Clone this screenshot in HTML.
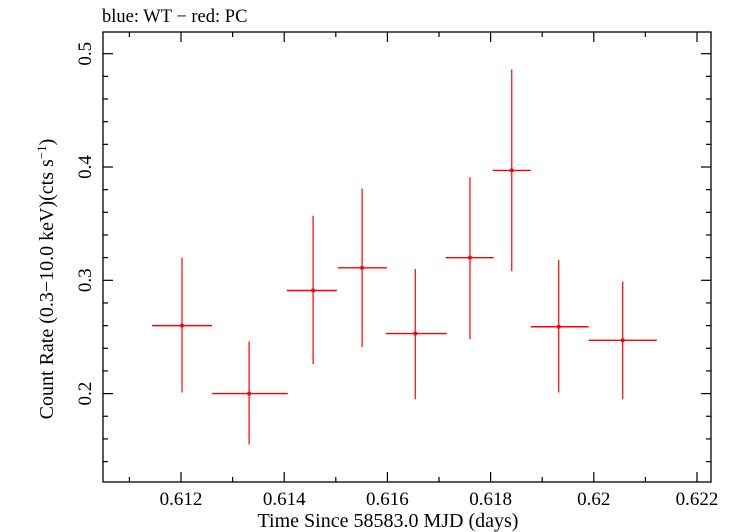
<!DOCTYPE html>
<html><head><meta charset="utf-8"><style>
body{margin:0;background:#fff;}
svg{display:block;font-family:"Liberation Serif",serif;}
</style></head><body>
<svg id="chart" width="731" height="532">
<text x="102" y="22" font-size="18.5">blue: WT − red: PC</text>
<rect x="103" y="32" width="608" height="450" fill="none" stroke="#000" stroke-width="1.3"/>
<g id="ticks"></g>
<g id="marks"></g>
<text x="388" y="527" font-size="20" text-anchor="middle">Time Since 58583.0 MJD (days)</text>
<text transform="translate(53,279) rotate(-90)" font-size="20" text-anchor="middle">Count Rate (0.3−10.0 keV)(cts s<tspan baseline-shift="super" font-size="13">−1</tspan>)</text>
</svg>
<script>
const xCenters=[0.61202,0.61332,0.61456,0.61551,0.61654,0.61760,0.61841,0.61932,0.62056];
const xLow=[0.61144,0.61260,0.61405,0.61504,0.61597,0.61713,0.61804,0.61878,0.61990];
const xHigh=[0.61260,0.61407,0.61502,0.61599,0.61715,0.61806,0.61878,0.61990,0.62122];
const rates=[0.260,0.200,0.291,0.311,0.253,0.320,0.397,0.259,0.247];
const rateLow=[0.201,0.155,0.226,0.241,0.195,0.248,0.308,0.201,0.195];
const rateHigh=[0.320,0.246,0.357,0.381,0.310,0.391,0.486,0.318,0.299];
const xTickLabels=["0.612","0.614","0.616","0.618","0.62","0.622"];
const yTickLabels=["0.2","0.3","0.4","0.5"];
const L=103,R=711,T=32,B=482;
const X0=0.612,XPX=181,XS=103.2/0.002;
const x=v=>XPX+(v-X0)*XS;
const Y0=0.2,YPX=393.6,YS=113.3/0.1;
const y=v=>YPX-(v-Y0)*YS;
const NS="http://www.w3.org/2000/svg";
function mk(tag,attrs,parent){const e=document.createElementNS(NS,tag);for(const k in attrs)e.setAttribute(k,attrs[k]);parent.appendChild(e);return e;}
const tg=document.getElementById('ticks');
for(let i=0;i<=12;i++){const v=0.611+i*0.001;const px=x(v);if(px<L||px>R)continue;const major=(i%2===1);const len=major?10:5;
 let l=mk('line',{x1:px,x2:px,y1:B,y2:B-len,stroke:'#000','stroke-width':1.2},tg);
 
 
 l=mk('line',{x1:px,x2:px,y1:T,y2:T+len,stroke:'#000','stroke-width':1.2},tg);
 
 
}
xTickLabels.forEach(s=>{const t=mk('text',{x:x(parseFloat(s)),y:505,'font-size':19,'text-anchor':'middle'},tg);t.textContent=s;
 
 });
for(let i=0;i<=20;i++){const v=0.12+i*0.02;const py=y(v);if(py<T||py>B)continue;const major=(Math.round(v*100)%10===0);const len=major?10:5;
 let l=mk('line',{x1:L,x2:L+len,y1:py,y2:py,stroke:'#000','stroke-width':1.2},tg);
 
 
 l=mk('line',{x1:R,x2:R-len,y1:py,y2:py,stroke:'#000','stroke-width':1.2},tg);
 
 
}
yTickLabels.forEach(s=>{const py=y(parseFloat(s));const t=mk('text',{transform:`translate(91,${py}) rotate(-90)`,'font-size':19,'text-anchor':'middle'},tg);t.textContent=s;
 
 });
const mg=document.getElementById('marks');
rates.forEach((r,i)=>{const g=mk('g',{},mg);
 
 
 mk('line',{x1:x(xLow[i]),x2:x(xHigh[i]),y1:y(r),y2:y(r),stroke:'#f00','stroke-width':1.4},g);
 mk('line',{x1:x(xCenters[i]),x2:x(xCenters[i]),y1:y(rateLow[i]),y2:y(rateHigh[i]),stroke:'#f00','stroke-width':1.2},g);
 mk('circle',{cx:x(xCenters[i]),cy:y(r),r:2,fill:'#f00'},g);
});
</script>
</body></html>
